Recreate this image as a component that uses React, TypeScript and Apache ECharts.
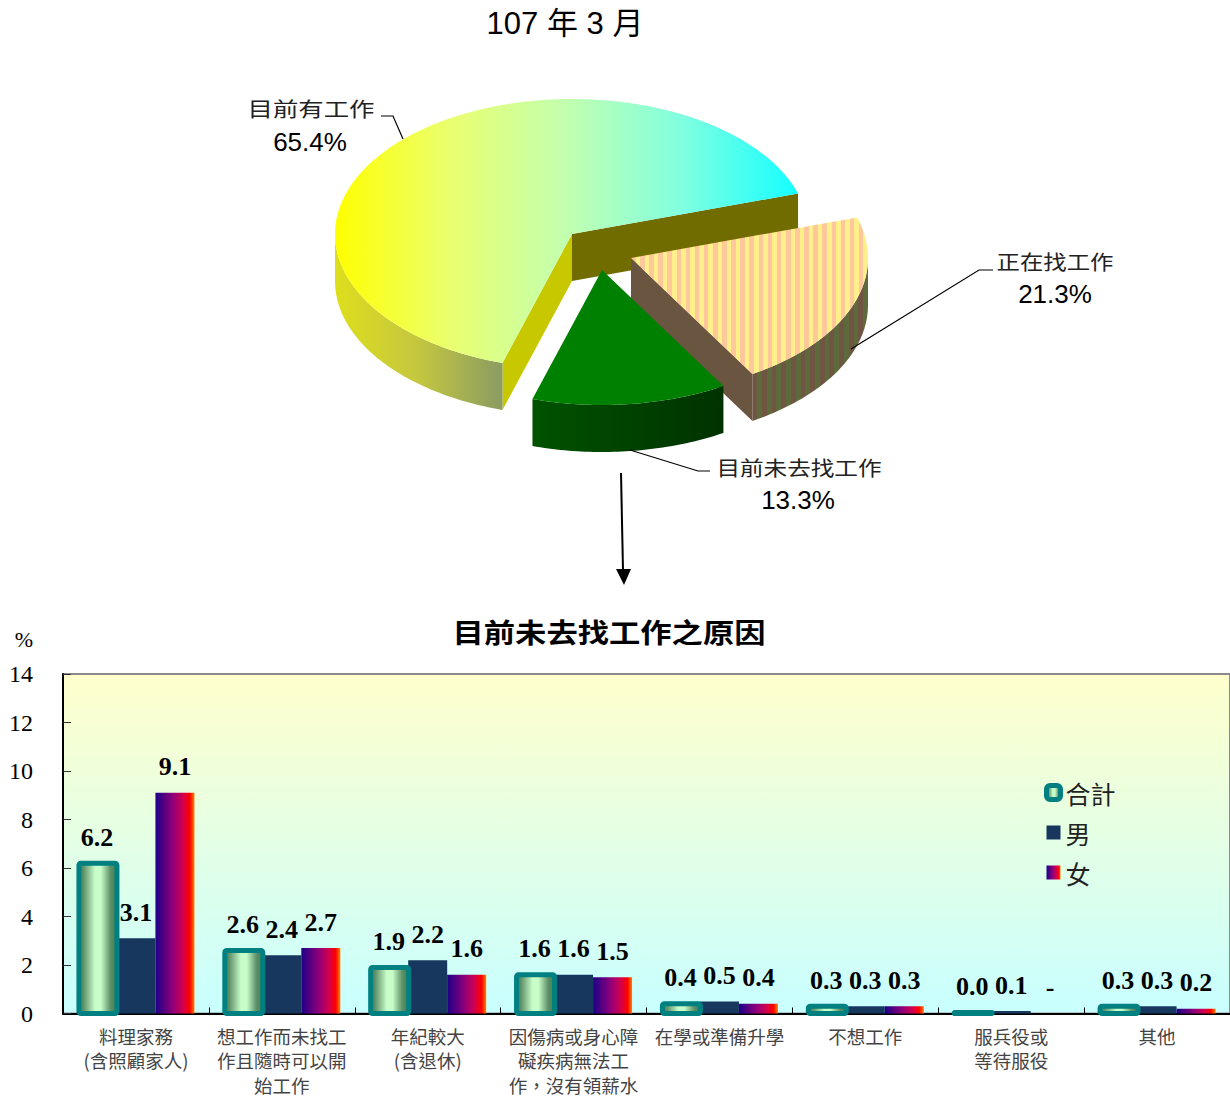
import React, { useEffect, useRef } from "react";
import * as echarts from "echarts";

// ---- data ----
const pieNames = ["目前有工作", "正在找工作", "目前未去找工作"];
const pieValues = [65.4, 21.3, 13.3];

const categories = [
  "料理家務\n(含照顧家人)",
  "想工作而未找工\n作且隨時可以開\n始工作",
  "年紀較大\n(含退休)",
  "因傷病或身心障\n礙疾病無法工\n作，沒有領薪水",
  "在學或準備升學",
  "不想工作",
  "服兵役或\n等待服役",
  "其他",
];
const totalValues = [6.2, 2.6, 1.9, 1.6, 0.4, 0.3, 0.04, 0.3];
const maleValues = [3.1, 2.4, 2.2, 1.6, 0.5, 0.3, 0.1, 0.3];
const femaleValues = [9.1, 2.7, 1.6, 1.5, 0.4, 0.3, 0, 0.2];
const yTicks = [0, 2, 4, 6, 8, 10, 12, 14];

// ---- styling / geometry ----
const SANS = '"Liberation Sans", "Noto Sans CJK TC", sans-serif';
const SERIF = '"Liberation Serif", "Noto Sans CJK TC", serif';
const CJK = '"Noto Sans CJK TC", sans-serif';
const RX = 237;
const RY = 135;
const DEPTH = 47;
const START = 17.5;
const BAR_W = 39;
const TEAL = "#008080";
const apexes = [
  [572, 234],
  [631, 258],
  [602, 270],
];
// sweep order, counter-clockwise from START: 目前有工作, 目前未去找工作, 正在找工作
const sweepOrder = [0, 2, 1];

function stripes(w: number, period: number, a: string, b: string) {
  const stops: { offset: number; color: string }[] = [];
  const n = Math.floor(w / period);
  for (let i = 0; i < n; i++) {
    const s = i / n;
    const m = (i + 0.5) / n;
    const e = (i + 1) / n;
    stops.push({ offset: s, color: a }, { offset: m, color: a }, { offset: m, color: b }, { offset: e, color: b });
  }
  return new echarts.graphic.LinearGradient(0, 0, 1, 0, stops);
}

function grad(stops: [number, string][], vertical = false) {
  return new echarts.graphic.LinearGradient(
    0,
    0,
    vertical ? 0 : 1,
    vertical ? 1 : 0,
    stops.map(([offset, color]) => ({ offset, color }))
  );
}

const pt = (c: number[], deg: number, dy = 0) => {
  const r = (deg * Math.PI) / 180;
  return [c[0] + RX * Math.cos(r), c[1] - RY * Math.sin(r) + dy];
};

function arc(c: number[], a1: number, a2: number, dy = 0) {
  const out: number[][] = [];
  const n = Math.max(2, Math.ceil(Math.abs(a2 - a1)));
  for (let i = 0; i <= n; i++) out.push(pt(c, a1 + ((a2 - a1) * i) / n, dy));
  return out;
}

function wall(c: number[], a1: number, a2: number) {
  return [...arc(c, a1, a2), ...arc(c, a2, a1, DEPTH)];
}

function radialWall(c: number[], a: number) {
  const p = pt(c, a);
  return [c, p, [p[0], p[1] + DEPTH], [c[0], c[1] + DEPTH]];
}

function sliceAngles() {
  const res: [number, number][] = [];
  let a = START;
  sweepOrder.forEach((idx) => {
    const next = a + pieValues[idx] * 3.6;
    res[idx] = [a, next];
    a = next;
  });
  return res;
}

const poly = (points: number[][], fill: any) => ({
  type: "polygon",
  shape: { points },
  style: { fill },
});

function renderSlice(params: any) {
  const i = params.dataIndex;
  const [a1, a2] = sliceAngles()[i];
  const c = apexes[i];
  const top = [c, ...arc(c, a1, a2)];
  const children: any[] = [];
  if (i === 0) {
    children.push(poly(radialWall(c, a1), "#706c00"));
    children.push(poly(radialWall(c, a2), "#c8c800"));
    children.push(
      poly(
        wall(c, 180, a2),
        grad([
          [0, "#dede1c"],
          [0.5, "#c4c640"],
          [1, "#8a9c62"],
        ])
      )
    );
    children.push(
      poly(
        top,
        grad([
          [0, "#ffff00"],
          [0.25, "#eaff70"],
          [0.5, "#c2ffb0"],
          [0.75, "#80ffe0"],
          [1, "#14ffff"],
        ])
      )
    );
  } else if (i === 1) {
    children.push(poly(radialWall(c, a1), "#6a5540"));
    children.push(poly(wall(c, a1, 360), stripes(116, 9, "#6e5642", "#5f6a3c")));
    children.push(poly(top, stripes(237, 9, "#ffc89a", "#fff08c")));
  } else {
    children.push(
      poly(
        wall(c, a1, a2),
        grad([
          [0, "#005200"],
          [1, "#003200"],
        ])
      )
    );
    children.push(poly(top, "#008000"));
  }
  return { type: "group", children };
}

// teal outline of the 合計 bars, drawn outside the bar as in the reference
function renderOutline(_params: any, api: any) {
  const [cx, top] = api.coord([api.value(0), api.value(1)]);
  const [, bottom] = api.coord([api.value(0), 0]);
  return {
    type: "rect",
    shape: { x: cx - BAR_W * 1.5 + 1.5, y: top, width: BAR_W - 1, height: bottom - top, r: 2 },
    style: { fill: "none", stroke: TEAL, lineWidth: 5 },
  };
}

const barLabel = {
  show: true,
  position: "top" as const,
  distance: 13,
  fontFamily: SERIF,
  fontWeight: "bold" as const,
  fontSize: 26,
  color: "#000",
};

const pieLabelStyle = (text: string) => ({
  text,
  fontFamily: CJK,
  fontSize: 20,
  fill: "#222",
  textAlign: "center" as const,
  textVerticalAlign: "middle" as const,
});
const pctStyle = (v: number) => ({
  text: v.toFixed(1) + "%",
  fontFamily: SANS,
  fontSize: 26,
  fill: "#000",
  textAlign: "center" as const,
  textVerticalAlign: "middle" as const,
});

export default function App() {
  const ref = useRef<HTMLDivElement>(null);
  useEffect(() => {
    const chart = echarts.init(ref.current!, undefined, { renderer: "svg" });
    const line = (points: number[][], width = 1.2) => ({
      type: "polyline",
      shape: { points },
      style: { stroke: "#000", lineWidth: width, fill: "none" },
      z: 20,
    });
    chart.setOption({
      animation: false,
      title: {
        text: "107 年 3 月",
        left: 560,
        top: 3,
        textAlign: "center",
        textStyle: { fontFamily: SANS, fontSize: 31, fontWeight: "normal", color: "#000" },
      },
      grid: {
        show: true,
        left: 63,
        top: 674,
        width: 1167,
        height: 340,
        borderColor: "#8a8a8a",
        borderWidth: 2,
        backgroundColor: grad(
          [
            [0, "#ffffcc"],
            [1, "#c8ffff"],
          ],
          true
        ),
      },
      legend: {
        orient: "vertical",
        left: 1044,
        top: 780,
        padding: 0,
        itemWidth: 14,
        itemHeight: 14,
        itemGap: 15,
        icon: "rect",
        data: [
          {
            name: "合計",
            icon: "roundRect",
            itemStyle: { borderColor: TEAL, borderWidth: 5 },
          },
          { name: "男" },
          { name: "女" },
        ],
        selectedMode: false,
        textStyle: { fontFamily: CJK, fontSize: 25, color: "#222" },
      },
      xAxis: {
        type: "category",
        data: categories,
        axisLine: { lineStyle: { color: "#000", width: 2 } },
        axisTick: { show: true, inside: true, length: 6, lineStyle: { color: "#000" } },
        axisLabel: {
          interval: 0,
          margin: 10,
          fontFamily: CJK,
          fontSize: 18.5,
          lineHeight: 24.5,
          color: "#444",
        },
        splitLine: { show: false },
      },
      yAxis: {
        type: "value",
        min: yTicks[0],
        max: yTicks[yTicks.length - 1],
        interval: 2,
        name: "%",
        nameGap: 24,
        nameTextStyle: {
          fontFamily: SERIF,
          fontSize: 22,
          color: "#000",
          align: "right",
          padding: [0, 30, 0, 0],
        },
        axisLine: { show: true, lineStyle: { color: "#000", width: 2 } },
        axisTick: { show: true, inside: true, length: 8, lineStyle: { color: "#333" } },
        axisLabel: { margin: 30, fontFamily: SERIF, fontSize: 24, color: "#000" },
        splitLine: { show: false },
      },
      series: [
        {
          name: "pie",
          type: "custom",
          coordinateSystem: "none",
          silent: true,
          data: pieValues.map((v, i) => [v, i]),
          renderItem: renderSlice,
          z: 5,
        },
        {
          name: "合計",
          type: "bar",
          data: totalValues,
          barWidth: BAR_W,
          barGap: "0%",
          z: 3,
          itemStyle: {
            color: grad([
              [0, "#3f7f50"],
              [0.15, "#5d9068"],
              [0.45, "#c8fcc8"],
              [0.6, "#c8fcc8"],
              [0.85, "#5d9068"],
              [1, "#3f7f50"],
            ]),
          },
          label: { ...barLabel, formatter: (p: any) => p.value.toFixed(1) },
        },
        {
          name: "男",
          type: "bar",
          data: maleValues,
          barWidth: BAR_W,
          barGap: "0%",
          z: 3,
          itemStyle: { color: "#17375e" },
          label: { ...barLabel, formatter: (p: any) => p.value.toFixed(1) },
        },
        {
          name: "女",
          type: "bar",
          data: femaleValues,
          barWidth: BAR_W,
          barGap: "0%",
          z: 3,
          itemStyle: {
            color: grad([
              [0, "#1c0088"],
              [0.45, "#90007a"],
              [0.7, "#d00050"],
              [0.88, "#ff0000"],
              [1, "#ff8000"],
            ]),
          },
          label: {
            ...barLabel,
            formatter: (p: any) => (p.value === 0 ? "-" : p.value.toFixed(1)),
          },
        },
        {
          name: "合計外框",
          type: "custom",
          silent: true,
          data: totalValues.map((v, i) => [i, v]),
          encode: { x: 0, y: 1 },
          renderItem: renderOutline,
          z: 4,
        },
      ],
      graphic: [
        line([[381, 116], [393, 116], [403, 139]]),
        line([[851, 349], [979, 270], [993, 270]]),
        line([[630, 450], [698, 471], [710, 471]]),
        line([[621, 473], [623, 570]], 2),
        {
          type: "polygon",
          shape: { points: [[616, 569], [631, 569], [624, 585]] },
          style: { fill: "#000" },
          z: 20,
        },
        { type: "text", x: 311, y: 108, scaleX: 1.27, style: pieLabelStyle(pieNames[0]), z: 20 },
        { type: "text", x: 310, y: 142, style: pctStyle(pieValues[0]), z: 20 },
        { type: "text", x: 1055, y: 261, scaleX: 1.17, style: pieLabelStyle(pieNames[1]), z: 20 },
        { type: "text", x: 1055, y: 294, style: pctStyle(pieValues[1]), z: 20 },
        { type: "text", x: 799, y: 467, scaleX: 1.18, style: pieLabelStyle(pieNames[2]), z: 20 },
        { type: "text", x: 798, y: 500, style: pctStyle(pieValues[2]), z: 20 },
        {
          type: "text",
          x: 609,
          y: 631,
          scaleX: 1.16,
          z: 20,
          style: {
            text: "目前未去找工作之原因",
            fontFamily: CJK,
            fontSize: 27,
            fontWeight: "bold",
            fill: "#000",
            textAlign: "center",
            textVerticalAlign: "middle",
          },
        },
      ],
    });
    return () => chart.dispose();
  }, []);
  return (
    <div
      ref={ref}
      style={{ position: "absolute", left: 0, top: 0, width: 1230, height: 1097 }}
    />
  );
}
